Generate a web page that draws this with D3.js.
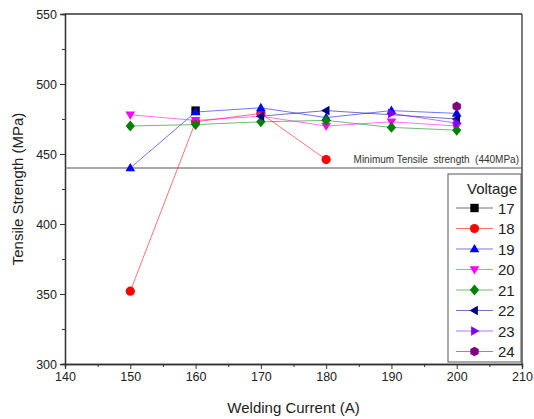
<!DOCTYPE html>
<html>
<head>
<meta charset="utf-8">
<script src="https://cdn.jsdelivr.net/npm/d3@7"></script>
<style>
  body { margin: 0; background: white; }
  svg text { font-family: "Liberation Sans", Arial, sans-serif; }
</style>
</head>
<body>
<div id="chart"></div>
<script>
// values
const voltages = ["17", "18", "19", "20", "21", "22", "23", "24"];
const colors = ["#000000", "#ff0000", "#0000ff", "#ff00ff", "#008000", "#000080", "#8000ff", "#800080"];
const symbols = ["square", "circle", "triangle", "triangleDown", "diamond", "triangleLeft", "triangleRight", "hexagon"];
const s17 = [[160, 481]];
const s18 = [[150, 352], [160, 473], [170, 479], [180, 446]];
const s19 = [[150, 440], [160, 480], [170, 483], [180, 476], [190, 481], [200, 479]];
const s20 = [[150, 478], [160, 474], [170, 477], [180, 470], [190, 473], [200, 470]];
const s21 = [[150, 470], [160, 471], [170, 473], [180, 474], [190, 469], [200, 467]];
const s22 = [[170, 477], [180, 481], [200, 475]];
const s23 = [[190, 479], [200, 472]];
const s24 = [[200, 484]];
const seriesData = [s17, s18, s19, s20, s21, s22, s23, s24];
const xTicks = [140, 150, 160, 170, 180, 190, 200, 210];
const yTicks = [300, 350, 400, 450, 500, 550];
const minStrength = 440;

const width = 534, height = 419;
const margin = {left: 65, right: 12, top: 14, bottom: 55};

const svg = d3.select("#chart").append("svg")
    .attr("width", width)
    .attr("height", height);

let x = d3.scaleLinear().domain([140, 210]).range([margin.left, width - margin.right]);
let y = d3.scaleLinear().domain([300, 550]).range([height - margin.bottom, margin.top]);

// axes
let xAxis = svg.append("g")
    .attr("transform", "translate(0," + y(300) + ")")
    .call(d3.axisBottom(x).tickValues(xTicks).tickSize(5).tickPadding(3));
let xMinor = svg.append("g")
    .attr("transform", "translate(0," + y(300) + ")")
    .call(d3.axisBottom(x).tickValues(d3.range(145, 210, 10)).tickSize(3).tickFormat(""));
let yAxis = svg.append("g")
    .attr("transform", "translate(" + x(140) + ",0)")
    .call(d3.axisLeft(y).tickValues(yTicks).tickSize(5).tickPadding(3));
let yMinor = svg.append("g")
    .attr("transform", "translate(" + x(140) + ",0)")
    .call(d3.axisLeft(y).tickValues(d3.range(325, 550, 50)).tickSize(3).tickFormat(""));

[xAxis, xMinor, yAxis, yMinor].forEach(function (g) {
    g.select(".domain").attr("stroke", "#333").attr("stroke-width", 1.3);
    g.selectAll(".tick line").attr("stroke", "#333");
    g.selectAll("text").attr("font-size", 12.5).attr("fill", "#222");
});

// frame top / right
svg.append("line")
    .attr("x1", x(140)).attr("x2", x(210)).attr("y1", y(550)).attr("y2", y(550))
    .attr("stroke", "#333").attr("stroke-width", 1.3);
svg.append("line")
    .attr("x1", x(210)).attr("x2", x(210)).attr("y1", y(550)).attr("y2", y(300))
    .attr("stroke", "#333").attr("stroke-width", 1.3);

// axis titles
svg.append("text")
    .attr("x", (x(140) + x(210)) / 2)
    .attr("y", 413)
    .attr("text-anchor", "middle")
    .attr("font-size", 15)
    .attr("fill", "#222")
    .text("Welding Current (A)");
svg.append("text")
    .attr("transform", "translate(23," + ((y(300) + y(550)) / 2) + ") rotate(-90)")
    .attr("text-anchor", "middle")
    .attr("font-size", 15)
    .attr("fill", "#222")
    .text("Tensile Strength (MPa)");

// minimum strength line
svg.append("line")
    .attr("x1", x(140)).attr("x2", x(210))
    .attr("y1", y(minStrength)).attr("y2", y(minStrength))
    .attr("stroke", "#555").attr("stroke-width", 1.2);
svg.append("text")
    .attr("x", x(210) - 3)
    .attr("y", y(minStrength) - 5)
    .attr("text-anchor", "end")
    .attr("font-size", 10)
    .attr("fill", "#333")
    .style("white-space", "pre")
    .text("Minimum Tensile  strength  (440MPa)");

// symbol shapes
function symbolPath(name, size) {
    let r = size;
    if (name == "square") return "M" + (-r) + "," + (-r) + "h" + 2 * r + "v" + 2 * r + "h" + (-2 * r) + "Z";
    if (name == "circle") return d3.symbol(d3.symbolCircle, Math.PI * r * r * 1.2)();
    if (name == "triangle") return "M0," + (-r * 1.2) + "L" + r * 1.15 + "," + r * 0.8 + "L" + (-r * 1.15) + "," + r * 0.8 + "Z";
    if (name == "triangleDown") return "M0," + r * 1.2 + "L" + r * 1.15 + "," + (-r * 0.8) + "L" + (-r * 1.15) + "," + (-r * 0.8) + "Z";
    if (name == "triangleLeft") return "M" + (-r * 1.2) + ",0L" + r * 0.8 + "," + (-r * 1.15) + "L" + r * 0.8 + "," + r * 1.15 + "Z";
    if (name == "triangleRight") return "M" + r * 1.2 + ",0L" + (-r * 0.8) + "," + (-r * 1.15) + "L" + (-r * 0.8) + "," + r * 1.15 + "Z";
    if (name == "diamond") return "M0," + (-r * 1.3) + "L" + r * 1.1 + ",0L0," + r * 1.3 + "L" + (-r * 1.1) + ",0Z";
    if (name == "hexagon") {
        let pts = d3.range(6).map(function (i) {
            let a = Math.PI / 3 * i + Math.PI / 6;
            return [Math.cos(a) * r * 1.15, Math.sin(a) * r * 1.15];
        });
        return "M" + pts.join("L") + "Z";
    }
}

let line = d3.line().x(function (d) { return x(d[0]); }).y(function (d) { return y(d[1]); });

seriesData.forEach(function (data, i) {
    let g = svg.append("g").attr("class", "series-" + voltages[i]);
    g.append("path")
        .datum(data)
        .attr("d", line)
        .attr("fill", "none")
        .attr("stroke", colors[i])
        .attr("stroke-opacity", 0.55)
        .attr("stroke-width", 1);
    g.selectAll("path.pt")
        .data(data)
        .enter()
        .append("path")
        .attr("class", "pt")
        .attr("transform", function (d) { return "translate(" + x(d[0]) + "," + y(d[1]) + ")"; })
        .attr("d", symbolPath(symbols[i], 4.2))
        .attr("fill", colors[i]);
});

// legend
let lx = 448, ly = 174, lw = 73, lh = 188;
let legend = svg.append("g");
legend.append("rect")
    .attr("x", lx).attr("y", ly).attr("width", lw).attr("height", lh)
    .attr("fill", "white").attr("stroke", "#555").attr("stroke-width", 1);
legend.append("text")
    .attr("x", lx + lw - 4).attr("y", ly + 20)
    .attr("text-anchor", "end")
    .attr("font-size", 15)
    .attr("fill", "#222")
    .text("Voltage");
voltages.forEach(function (v, i) {
    let cy = ly + 34 + i * 20.5;
    legend.append("line")
        .attr("x1", lx + 8).attr("x2", lx + 45).attr("y1", cy).attr("y2", cy)
        .attr("stroke", colors[i]).attr("stroke-opacity", 0.55);
    legend.append("path")
        .attr("transform", "translate(" + (lx + 26.5) + "," + cy + ")")
        .attr("d", symbolPath(symbols[i], 4.2))
        .attr("fill", colors[i]);
    legend.append("text")
        .attr("x", lx + 50).attr("y", cy + 5.5)
        .attr("font-size", 15)
        .attr("fill", "#222")
        .text(v);
});
</script>
</body>
</html>
